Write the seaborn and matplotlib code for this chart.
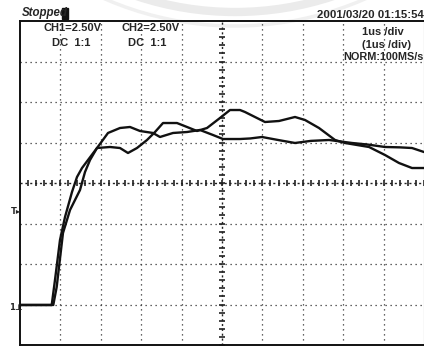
import numpy as np
import pandas as pd
import matplotlib
matplotlib.use("Agg")
import matplotlib.pyplot as plt
import seaborn as sns
from matplotlib.patches import Arc, Rectangle

# ---- data (time in divisions of 1us, voltage in divisions of 2.50V) ----
t_ch1 = [0.0, 0.785, 0.866, 0.990, 1.114, 1.287, 1.411, 1.535, 1.683, 1.906,
         2.178, 2.475, 2.723, 2.970, 3.292, 3.465, 3.787, 4.134, 4.455, 4.777,
         5.025, 5.446, 5.70, 5.990, 6.40, 6.807, 7.20, 7.649, 8.218, 8.60,
         9.035, 9.40, 9.703, 10.0]
v_ch1 = [0.988, 0.988, 1.605, 2.593, 3.160, 3.778, 4.148, 4.370, 4.568, 4.864,
         5.235, 5.358, 5.383, 5.284, 5.235, 5.136, 5.235, 5.259, 5.309, 5.185,
         5.086, 5.086, 5.10, 5.136, 5.06, 4.988, 5.04, 5.062, 4.988, 4.95,
         4.889, 4.88, 4.864, 4.765]

t_ch2 = [0.0, 0.824, 0.908, 1.064, 1.238, 1.485, 1.609, 1.733, 1.906, 2.228,
         2.475, 2.673, 2.896, 3.144, 3.342, 3.540, 3.886, 4.134, 4.381, 4.629,
         4.950, 5.198, 5.446, 5.569, 6.064, 6.411, 6.807, 7.054, 7.401, 7.797,
         8.045, 8.639, 9.035, 9.381, 9.703, 10.0]
v_ch2 = [0.988, 0.988, 1.432, 2.765, 3.333, 3.827, 4.272, 4.568, 4.864, 4.889,
         4.864, 4.741, 4.864, 5.062, 5.259, 5.481, 5.481, 5.383, 5.284, 5.358,
         5.605, 5.802, 5.802, 5.753, 5.506, 5.531, 5.630, 5.556, 5.358, 5.062,
         4.988, 4.889, 4.691, 4.494, 4.370, 4.370]

status_text = "Stopped"
timestamp = "2001/03/20 01:15:54"
ch_labels = ["CH1=2.50V", "CH2=2.50V"]
coupling = ["DC  1:1", "DC  1:1"]
timebase = ["1us /div", "(1us /div)", "NORM:100MS/s"]
trig_marker = "T\u25b8"
gnd_marker = "1\u22a5"

# ---- style ----
sns.set_style("white")
plt.rcParams['font.family'] = ['Liberation Sans', 'DejaVu Sans']

W, H = 424, 349
fig = plt.figure(figsize=(W / 100, H / 100), dpi=100)
fig.patch.set_facecolor('white')

# faint watermark arcs from the scan
for r, lw, col in [(312, 6, '#ebebeb'), (326, 2.5, '#f0f0f0')]:
    fig.add_artist(Arc((235 / W, 1 + 300 / H), 2 * r / W, 2 * r / H,
                       theta1=200, theta2=340, transform=fig.transFigure,
                       color=col, lw=lw, zorder=-5))

ax = fig.add_axes([20 / W, 4 / H, 404 / W, 324 / H])
ax.set_facecolor('none')
ax.set_xlim(0, 10)
ax.set_ylim(0, 8)
ax.set_xticks([])
ax.set_yticks([])
for s in ['left', 'top', 'bottom']:
    ax.spines[s].set_color('#111')
    ax.spines[s].set_linewidth(1.4)
ax.spines['right'].set_color('#888')
ax.spines['right'].set_linewidth(0.8)

# graticule
for gx in range(1, 10):
    if gx != 5:
        ax.axvline(gx, color='#333', lw=0.9, ls=(0, (1, 3)), zorder=1)
for gy in range(1, 8):
    if gy != 4:
        ax.axhline(gy, color='#333', lw=0.9, ls=(0, (1, 3)), zorder=1)
ax.axhline(4, color='#222', lw=1.0, ls=(0, (1.5, 2)), zorder=1)
ax.axvline(5, color='#222', lw=1.0, ls=(0, (1.5, 2)), zorder=1)
minor_x = np.arange(0, 10.01, 0.2)
minor_y = np.arange(0, 8.01, 0.2)
ax.plot(minor_x, np.full_like(minor_x, 4), ls='none', marker='|', ms=5,
        mew=1.2, color='#222', zorder=1)
ax.plot(np.full_like(minor_y, 5), minor_y, ls='none', marker='_', ms=5,
        mew=1.2, color='#222', zorder=1)

# traces
df1 = pd.DataFrame({'t': t_ch1, 'v': v_ch1})
df2 = pd.DataFrame({'t': t_ch2, 'v': v_ch2})
sns.lineplot(data=df1, x='t', y='v', ax=ax, color='#111', lw=1.7, sort=False,
             estimator=None, zorder=3)
sns.lineplot(data=df2, x='t', y='v', ax=ax, color='#111', lw=1.7, sort=False,
             estimator=None, zorder=3)
ax.set_xlabel('')
ax.set_ylabel('')
ax.set_xlim(0, 10)
ax.set_ylim(0, 8)

# texts
def ftxt(px, py, s, **kw):
    kw.setdefault('fontsize', 8)
    kw.setdefault('weight', 'bold')
    kw.setdefault('va', 'center')
    fig.text(px / W, 1 - py / H, s, **kw)

ftxt(22, 13, status_text, style='italic', fontsize=8.3, ha='left')
fig.add_artist(Rectangle((62 / W, 1 - 19 / H), 6 / W, 11 / H,
                         transform=fig.transFigure, color='#111'))
ftxt(424, 15, timestamp, ha='right', fontsize=8.2)
ftxt(43, 28, ch_labels[0], ha='left')
ftxt(122, 28, ch_labels[1], ha='left')
ftxt(52, 43, coupling[0], ha='left')
ftxt(128, 43, coupling[1], ha='left')
ftxt(383, 32, timebase[0], ha='center')
ftxt(387, 45, timebase[1], ha='center')
ftxt(424, 57, timebase[2], ha='right', fontsize=7.8)
ftxt(11, 212, trig_marker, ha='left', fontsize=6, family=['DejaVu Sans'])
ftxt(9, 307, gnd_marker, ha='left', fontsize=6, family=['DejaVu Sans'])

fig.savefig('out.png', dpi=100, facecolor='white')
